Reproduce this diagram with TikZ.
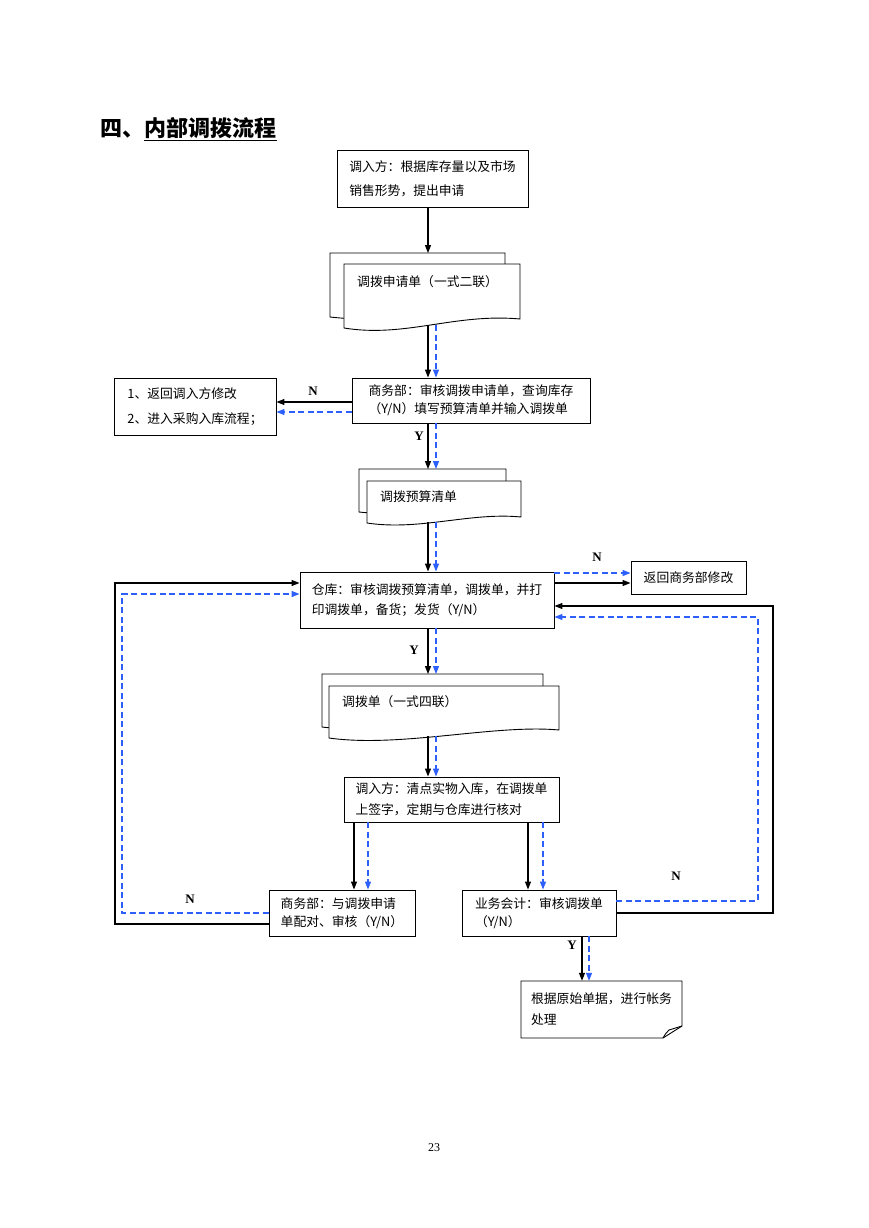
\documentclass[tikz,border=0pt]{standalone}
\usepackage{fontspec}
\setmainfont{Liberation Serif}
\newfontfamily\cjk{Noto Sans CJK SC}
\usetikzlibrary{arrows.meta,calc}
\definecolor{bluec}{RGB}{45,95,250}
\tikzset{
  box/.style={draw, line width=0.9pt, fill=white, inner sep=0pt, align=left},
  txt/.style={font=\cjk\fontsize{12.8}{#1}\selectfont},
  docsheet/.style={draw, line width=0.9pt, fill=white},
  blk/.style={line width=1.1pt, -{Triangle[length=8pt,width=6pt]}},
  blu/.style={draw=bluec, line width=1.2pt, dash pattern=on 6pt off 3.5pt, -{Triangle[length=8pt,width=6pt]}},
  yn/.style={font=\bfseries\fontsize{13}{13}\selectfont, inner sep=0pt},
}
\begin{document}
\begin{tikzpicture}[x=1pt,y=-1pt]
\useasboundingbox[fill=white] (0,0) rectangle (868,1228);

% title
\node[anchor=base west, inner sep=0pt, font=\cjk\bfseries\fontsize{22}{22}\selectfont] (t1) at (100,136) {四、};
\node[anchor=base west, inner sep=0pt, font=\cjk\bfseries\fontsize{22}{22}\selectfont] (t2) at (t1.base east) {内部调拨流程};
\draw[line width=1pt] ([yshift=-2pt]t2.south west) -- ([yshift=-2pt]t2.south east);

% boxes
\node[box, txt=24, minimum width=191pt, minimum height=57pt] (b1) at (432.5,178.5) {调入方：根据库存量以及市场\\销售形势，提出申请};
\node[box, txt=25, minimum width=162pt, minimum height=57pt] (L) at (195,406.5) {1、返回调入方修改\\2、进入采购入库流程；};
\node[box, txt=18, minimum width=238pt, minimum height=45pt] (b2) at (471,400.5) {商务部：审核调拨申请单，查询库存\\（Y/N）填写预算清单并输入调拨单};
\node[box, txt=20, minimum width=254pt, minimum height=56pt] (b3) at (427,600) {仓库：审核调拨预算清单，调拨单，并打\\印调拨单，备货；发货（Y/N）};
\node[box, txt=18, minimum width=115pt, minimum height=33pt] (R) at (688.5,577.5) {返回商务部修改};
\node[box, txt=21, minimum width=215pt, minimum height=45pt] (b4) at (451.5,799.5) {调入方：清点实物入库，在调拨单\\上签字，定期与仓库进行核对};
\node[box, txt=18, minimum width=146pt, minimum height=46pt] (b5) at (342,913) {商务部：与调拨申请\\单配对、审核（Y/N）};
\node[box, txt=18, minimum width=154pt, minimum height=46pt] (b6) at (539,913) {业务会计：审核调拨单\\（Y/N）};

% document shapes
\draw[docsheet] (330,253) -- (505,253) -- (505,310) .. controls (460,305) and (400,325) .. (330,317) -- cycle;
\draw[docsheet] (344,264) -- (520,264) -- (520,319) .. controls (455,313) and (405,338) .. (344,328) -- cycle;
\node[anchor=west, inner sep=0pt, txt=18] (d1) at (357,282) {调拨申请单（一式二联）};

\draw[docsheet] (359,469) -- (506,469) -- (506,506) .. controls (465,502) and (410,518) .. (359,512) -- cycle;
\draw[docsheet] (367,481) -- (521,481) -- (521,517) .. controls (470,512) and (420,531) .. (367,523) -- cycle;
\node[anchor=west, inner sep=0pt, txt=18] (d2) at (380,497) {调拨预算清单};

\draw[docsheet] (322,674) -- (543,674) -- (543,720) .. controls (480,714) and (395,736) .. (322,727) -- cycle;
\draw[docsheet] (329,686) -- (559,686) -- (559,730) .. controls (495,724) and (400,748) .. (329,738) -- cycle;
\node[anchor=west, inner sep=0pt, txt=18] (d3) at (342,702) {调拨单（一式四联）};

% folded-corner box
\draw[docsheet] (521,981) -- (682,981) -- (682,1026) -- (663,1038) -- (521,1038) -- cycle;
\draw[line width=0.9pt] (663,1038) .. controls (666,1033) .. (669,1030) -- (682,1026);
\node[inner sep=0pt, align=left, txt=21, minimum width=161pt, minimum height=57pt] (b7) at (601.5,1009.5) {根据原始单据，进行帐务\\处理};

% helper coordinates
\coordinate (cA) at (428,0);
\coordinate (cB) at (436,0);
\coordinate (d1top) at (428,253);
\coordinate (d1bot) at (428,325);
\coordinate (d2top) at (428,469);
\coordinate (d2bot) at (428,522);
\coordinate (d3top) at (428,674);
\coordinate (d3bot) at (428,736);
\coordinate (lk) at (115,0);
\coordinate (lb) at (122,0);
\coordinate (rk) at (773,0);
\coordinate (rb) at (758,0);

% connectors
\draw[blk] (b1.south -| cA) -- (d1top -| cA);

\draw[blk] (d1bot -| cA) -- (b2.north -| cA);
\draw[blu] (d1bot -| cB) -- (b2.north -| cB);

\draw[blk] (b2.west |- 0,402) -- (L.east |- 0,402);
\draw[blu] (b2.west |- 0,412) -- (L.east |- 0,412);
\node[yn] (n1) at (313,391) {N};

\draw[blk] (b2.south -| cA) -- (d2top -| cA);
\draw[blu] (b2.south -| cB) -- (d2top -| cB);
\node[yn] (y1) at (419,436) {Y};

\draw[blk] (d2bot -| cA) -- (b3.north -| cA);
\draw[blu] (d2bot -| cB) -- (b3.north -| cB);

\draw[blk] (b3.east |- 0,583) -- (R.west |- 0,583);
\draw[blu] (b3.east |- 0,573) -- (R.west |- 0,573);
\node[yn] (n2) at (597,557) {N};

\draw[blk] (b3.south -| cA) -- (d3top -| cA);
\draw[blu] (b3.south -| cB) -- (d3top -| cB);
\node[yn] (y2) at (414,650) {Y};

\draw[blk] (d3bot -| cA) -- (b4.north -| cA);
\draw[blu] (d3bot -| cB) -- (b4.north -| cB);

\coordinate (c5k) at (354,0);
\coordinate (c5b) at (368,0);
\coordinate (c6k) at (528,0);
\coordinate (c6b) at (543,0);
\draw[blk] (b4.south -| c5k) -- (b5.north -| c5k);
\draw[blu] (b4.south -| c5b) -- (b5.north -| c5b);
\draw[blk] (b4.south -| c6k) -- (b6.north -| c6k);
\draw[blu] (b4.south -| c6b) -- (b6.north -| c6b);

% left loop
\draw[blk] (b5.west |- 0,924) -- (lk |- 0,924) -- (lk |- 0,583) -- (b3.west |- 0,583);
\draw[blu] (b5.west |- 0,913) -- (lb |- 0,913) -- (lb |- 0,594) -- (b3.west |- 0,594);
\node[yn] (n3) at (190,899) {N};

% right loop
\draw[blk] (b6.east |- 0,913) -- (rk |- 0,913) -- (rk |- 0,606) -- (b3.east |- 0,606);
\draw[blu] (b6.east |- 0,901) -- (rb |- 0,901) -- (rb |- 0,617) -- (b3.east |- 0,617);
\node[yn] (n4) at (676,876) {N};

% to final
\coordinate (c7k) at (582,0);
\coordinate (c7b) at (589,0);
\draw[blk] (b6.south -| c7k) -- (b7.north -| c7k);
\draw[blu] (b6.south -| c7b) -- (b7.north -| c7b);
\node[yn] (y3) at (572,945) {Y};

% page number
\node[font=\fontsize{12}{12}\selectfont, inner sep=0pt] (pg) at (434,1148) {23};
\end{tikzpicture}
\end{document}
